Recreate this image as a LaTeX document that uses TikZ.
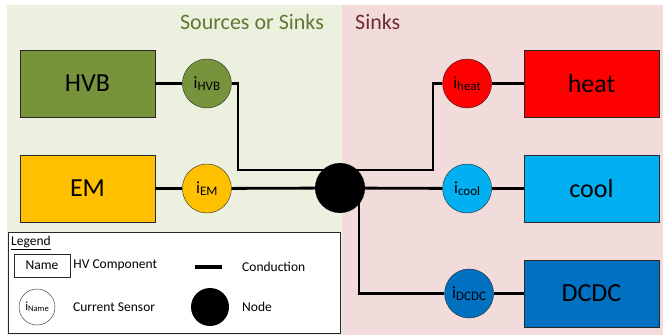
\documentclass[tikz,border=0pt]{standalone}
\usepackage{fontspec}
\setmainfont{Carlito}
\usepackage{tikz}
\usetikzlibrary{positioning, calc}
\definecolor{srcbg}{RGB}{235, 241, 222}
\definecolor{sinkbg}{RGB}{242, 220, 219}
\definecolor{srctitle}{RGB}{95, 120, 50}
\definecolor{sinktitle}{RGB}{110, 45, 45}
\definecolor{hvbgreen}{RGB}{119, 147, 60}
\definecolor{emyellow}{RGB}{255, 192, 0}
\definecolor{heatred}{RGB}{255, 0, 0}
\definecolor{coolblue}{RGB}{0, 176, 240}
\definecolor{dcdcblue}{RGB}{0, 112, 192}
\definecolor{edgegray}{RGB}{40, 40, 40}
% current sensor label: i with the component name as subscript
\newcommand{\isens}[1]{{\fontsize{17}{17}\selectfont i}\raisebox{-0.35ex}{\fontsize{13}{13}\selectfont #1}}
\newcommand{\isenssmall}[1]{{\fontsize{12.5}{12.5}\selectfont i}\raisebox{-0.3ex}{\fontsize{8.5}{9}\selectfont #1}}

\begin{document}
\begin{tikzpicture}[
    x=1pt, y=1pt,
    node distance=27pt,
    component/.style={rectangle, draw=edgegray, minimum width=135pt, minimum height=67pt, font=\fontsize{26}{28}\selectfont, inner sep=0pt},
    sensor/.style={circle, draw=edgegray, minimum size=49pt, inner sep=0pt},
    junction/.style={circle, fill=black, minimum size=50pt, inner sep=0pt},
    wire/.style={line width=2.8pt},
    legendtext/.style={anchor=west, font=\fontsize{13.5}{15}\selectfont, inner sep=0pt}
]
\useasboundingbox (0,0) rectangle (663,335);
% background regions
\fill[srcbg] (7,0) rectangle (342,330);
\fill[sinkbg] (342,0) rectangle (663,330);
\node[text=srctitle, font=\fontsize{22}{24}\selectfont] (srctxt) at (252,313) {Sources or Sinks};
\node[text=sinktitle, font=\fontsize{22}{24}\selectfont, anchor=west, inner sep=0pt] (sinktxt) at (355,313) {Sinks};

% components
\node[component, fill=hvbgreen] (hvb) at (87.5,251.5) {HVB};
\node[component, fill=emyellow] (em) at (87.5,146.5) {EM};
\node[component, fill=heatred] (heat) at (591.5,251.5) {heat};
\node[component, fill=coolblue] (cool) at (591.5,146.5) {cool};
\node[component, fill=dcdcblue] (dcdc) at (591.5,41.5) {DCDC};

% current sensors
\node[sensor, fill=hvbgreen, right=of hvb] (ihvb) {\isens{HVB}};
\node[sensor, fill=emyellow, right=of em] (iem) {\isens{EM}};
\node[sensor, fill=heatred, left=32pt of heat] (iheat) {\isens{heat}};
\node[sensor, fill=coolblue, left=32pt of cool] (icool) {\isens{cool}};
\node[sensor, fill=dcdcblue, left=30pt of dcdc] (idcdc) {\isens{DCDC}};

% common node
\node[junction] (bus) at (340,147) {};
\coordinate (hvbbend) at (238,165);
\coordinate (heatbend) at (433,165);
\coordinate (dcdcbend) at (359,41.5);

% conduction paths
\draw[wire] (hvb) -- (ihvb);
\draw[wire] (ihvb.east) -| (hvbbend) -- (bus.center |- hvbbend);
\draw[wire] (em) -- (iem);
\draw[wire] (iem) -- (bus);
\draw[wire] (bus.center |- heatbend) -- (heatbend) |- (iheat.west);
\draw[wire] (iheat) -- (heat);
\draw[wire] (bus) -- (icool);
\draw[wire] (icool) -- (cool);
\draw[wire] (dcdcbend |- bus.center) -- (dcdcbend) -- (idcdc.west);
\draw[wire] (idcdc) -- (dcdc);

% legend
\node[draw=edgegray, fill=white, minimum width=332pt, minimum height=101pt, inner sep=0pt] (legend) at (174,52.5) {};
\node[legendtext] (legtitle) at (11,92) {\underline{Legend}};
\node[rectangle, draw=edgegray, minimum width=56pt, minimum height=23pt, font=\fontsize{13.5}{15}\selectfont, inner sep=0pt] (legcomp) at (42,69.5) {Name};
\node[legendtext, right=3pt of legcomp] (legcomptxt) {HV Component};
\node[circle, draw=edgegray, minimum size=36pt, inner sep=0pt] (legsens) at (37,28) {\isenssmall{Name}};
\node[legendtext] (legsenstxt) at (73,28) {Current Sensor};
\coordinate (condA) at (195,68);
\coordinate (condB) at (222,68);
\draw[wire, line width=3.5pt] (condA) -- (condB);
\node[legendtext] (legcondtxt) at (242,68) {Conduction};
\node[junction, minimum size=38pt] (legnode) at (210,28) {};
\node[legendtext] (legnodetxt) at (242,28) {Node};
\end{tikzpicture}
\end{document}
